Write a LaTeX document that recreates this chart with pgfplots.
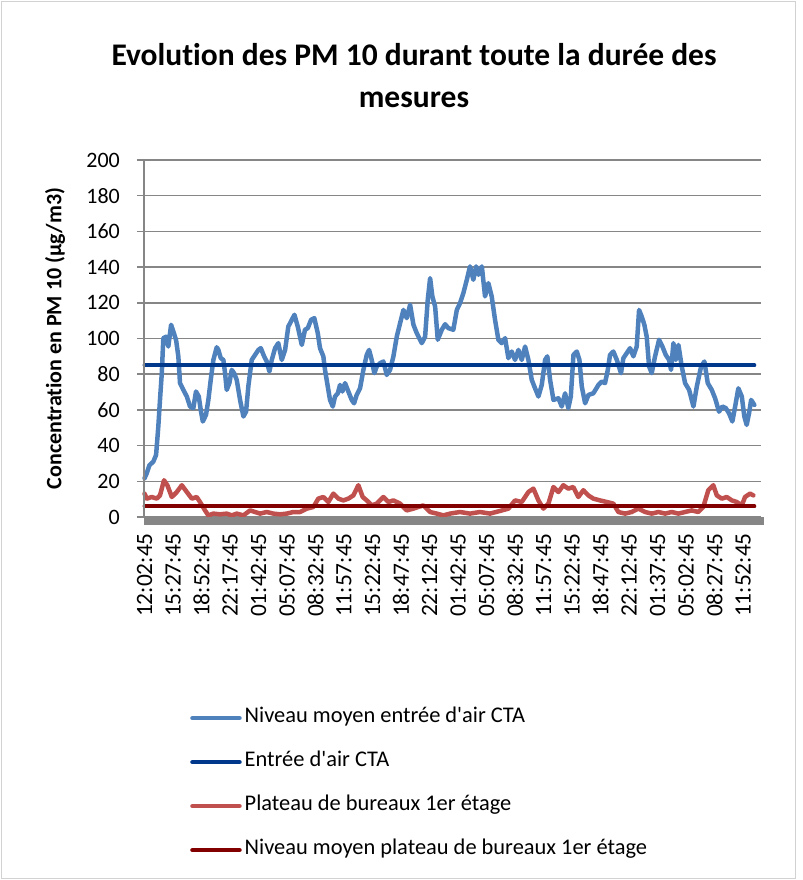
\documentclass[border=0pt]{standalone}
\usepackage{pgfplots}
\pgfplotsset{compat=1.18}
\usepackage{pgfplotstable}
\usepackage{fontspec}
\setmainfont{Carlito}[Ligatures=NoCommon]

\definecolor{serieblue}{HTML}{4F81BD}
\definecolor{darkblue}{HTML}{00388C}
\definecolor{seriered}{HTML}{C0504D}
\definecolor{darkred}{HTML}{820000}
\definecolor{axisgray}{HTML}{868686}

% minutes since 12:02:45, PM10 in ug/m3
\pgfplotstableread{
t v
0 21.7
16 24.5
35 29
63 31
83 34.8
99 50.7
111 65.6
124 80.6
135 100.2
155 101
171 95.5
191 107.7
207 104
227 99
243 90
255 75
279 71.2
304 67.5
327 61.9
351 61
370 70.3
390 67.5
404 60
419 53.5
442 57.2
459 65.6
476 76.8
495 88
519 95.1
531 93.6
548 89
567 88
579 80.6
591 71.2
610 75
627 82.4
644 80.6
663 76.8
687 65.6
711 56.3
730 59
747 73.5
771 88
795 90.8
819 93.6
836 94.6
860 90
879 87.1
898 81.5
915 88
939 94.6
962 97.4
987 88
1011 93.6
1034 106.7
1047 108.6
1078 113.3
1102 106.7
1131 96.4
1154 104.9
1174 105.8
1198 110.5
1221 111.4
1246 103
1262 94.6
1286 90
1298 82.4
1318 73
1334 65.6
1354 61.9
1370 67.5
1390 69.3
1406 74
1423 70.3
1442 75
1466 70.3
1490 65.6
1507 63.7
1526 68.4
1550 72.1
1574 82.4
1598 90.8
1615 93.6
1634 88
1653 80.6
1670 84.3
1694 86.2
1718 87.1
1742 79.6
1766 82.4
1790 90
1814 101
1838 108.6
1862 116
1886 111.4
1910 118.9
1934 107.7
1958 103
1994 97.4
2018 101
2037 121.7
2054 133.8
2070 123.6
2090 117.9
2109 99.3
2138 104.9
2162 108
2185 105.8
2221 104.9
2246 116
2269 119.8
2293 125.4
2318 132.9
2341 140.4
2365 132.9
2385 140.4
2402 135.7
2426 140.4
2449 123.6
2473 131
2497 123.6
2521 110.5
2545 99.3
2569 97.4
2593 100.2
2617 89
2641 92.7
2665 88
2689 93.6
2713 88
2737 95.5
2761 88
2785 76.8
2809 72.1
2833 67.5
2857 74
2881 88
2897 90
2917 76.8
2941 65.6
2977 66.5
3001 61.9
3025 69.3
3048 61
3066 67.5
3085 90.8
3109 92.7
3128 88
3145 73
3169 63.7
3193 68.4
3228 69.3
3265 74
3289 75.9
3312 75
3332 82.4
3348 90.8
3372 92.7
3397 88
3427 80.6
3444 89
3468 91.8
3492 94.6
3516 90
3540 95.5
3557 116
3576 112.3
3595 107.7
3612 101
3629 84.3
3648 80.6
3672 90
3701 99.3
3725 95.5
3749 90.8
3773 88
3787 82.4
3804 97.4
3821 88
3840 96.4
3864 84.3
3888 75
3917 71.2
3948 61.9
3972 73
4003 84.3
4027 87.1
4051 75
4080 71.2
4104 66.5
4132 59
4156 61.9
4181 61
4204 58.1
4228 53.5
4248 61.9
4271 72.1
4296 67.5
4314 56.3
4331 51.6
4348 58.1
4363 65.6
4386 62.8
}\entree

\pgfplotstableread{
t v
0 13.1
16 10.3
52 11.2
88 10.3
111 12.1
140 20.6
164 17.8
196 11.2
232 14
268 17.8
304 14
340 10.3
375 11.2
399 8.4
435 3.7
459 0.9
495 1.9
543 1.5
591 1.9
627 0.9
663 1.9
711 0.9
759 3.7
795 2.8
831 1.9
879 2.8
926 1.9
975 1.5
1023 1.9
1070 2.8
1119 2.8
1167 4.7
1214 5.6
1250 10.3
1286 11.2
1322 8.4
1358 13.1
1394 10.3
1430 9.3
1466 10.3
1502 12.1
1538 17.8
1569 11.2
1598 9.3
1634 6.5
1670 7.5
1718 11.2
1754 8.4
1790 9.3
1838 7.5
1886 3.7
1934 4.7
1969 5.6
2005 6.5
2054 2.8
2102 1.9
2149 0.9
2197 1.9
2269 2.8
2341 1.9
2413 2.8
2485 1.9
2557 3.4
2617 4.7
2665 9.3
2713 8.4
2761 14
2797 15.9
2833 9.3
2869 4.7
2905 7.5
2941 16.8
2977 14
3012 17.8
3048 15.9
3084 16.8
3120 11.2
3156 15
3192 12.1
3228 10.3
3276 9.3
3325 8.4
3372 7.5
3408 2.8
3456 1.9
3504 2.8
3552 4.7
3600 2.8
3648 1.9
3696 2.8
3744 1.9
3792 2.8
3840 1.9
3888 2.8
3936 3.7
3983 2.8
4019 5.6
4055 15
4091 17.8
4116 12.1
4152 10.3
4188 11.2
4224 9.3
4260 8.4
4296 6.5
4319 11.2
4355 13.1
4379 12.1
}\plateau

\begin{document}
\begin{tikzpicture}
\useasboundingbox (-144bp,-363bp) rectangle (659bp,517bp);
\draw[gray!35, line width=1bp] (-142bp,-361bp) rectangle (651bp,515bp);
\node[align=center, font=\fontsize{31.5bp}{42bp}\selectfont\bfseries] at (270bp,441bp)
  {Evolution des PM 10 durant toute la durée des\\mesures};
\begin{axis}[
  at={(0,0)}, anchor=south west,
  scale only axis, width=617bp, height=357bp,
  xmin=-4, xmax=4434, ymin=0, ymax=200,
  clip=false,
  axis line style={draw=none},
  ytick={0,20,...,200},
  xtick={0,205,...,4305},
  xticklabels={12:02:45,15:27:45,18:52:45,22:17:45,01:42:45,05:07:45,08:32:45,11:57:45,15:22:45,18:47:45,22:12:45,01:42:45,05:07:45,08:32:45,11:57:45,15:22:45,18:47:45,22:12:45,01:37:45,05:02:45,08:27:45,11:52:45},
  ymajorgrids, grid style={axisgray, line width=1.5bp},
  tick align=outside, ytick pos=left, xtick pos=bottom,
  major tick length=7bp,
  ytick style={axisgray, line width=1.5bp},
  xtick style={draw=none},
  /pgf/number format/assume math mode=true,
  yticklabel style={inner sep=0pt, xshift=-17bp, font=\fontsize{22bp}{26bp}\selectfont},
  xticklabel style={rotate=90, anchor=east, inner sep=0pt, font=\fontsize{23.4bp}{26bp}\selectfont},
  xticklabel shift=9bp,
  ylabel={Concentration en PM 10 (µg/m3)},
  ylabel style={at={(axis description cs:-0.1443,0.5)}, anchor=center,
    font=\fontsize{22bp}{26bp}\selectfont\bfseries},
  legend style={at={(axis description cs:0.0746,-0.536)}, anchor=north west,
    draw=none, fill=none, inner sep=0pt, row sep=25bp, column sep=3bp,
    font=\fontsize{22.4bp}{26bp}\selectfont,
    nodes={inner sep=0pt, text height=14bp, text depth=5bp}},
  legend cell align=left,
  legend image code/.code={\draw[#1, line width=4.5bp, line cap=round] (0bp,0bp) -- (47bp,0bp);},
  every axis plot/.append style={line join=round, line cap=round},
]
\addplot[serieblue, line width=4.5bp] table[x=t, y=v] {\entree};
\addlegendentry{Niveau moyen entrée d\textquotesingle air CTA}
\addplot[darkblue, line width=4bp] coordinates {(0,85) (4386,85)};
\addlegendentry{Entrée d\textquotesingle air CTA}
\addplot[seriered, line width=4.5bp] table[x=t, y=v] {\plateau};
\addlegendentry{Plateau de bureaux 1er étage}
\addplot[darkred, line width=4bp] coordinates {(0,6) (4386,6)};
\addlegendentry{Niveau moyen plateau de bureaux 1er étage}
\end{axis}
\draw[axisgray, line width=1.5bp] (0,0) -- (0,357bp);
\fill[axisgray] (0,0) rectangle (620bp,-8bp);
\end{tikzpicture}
\end{document}
